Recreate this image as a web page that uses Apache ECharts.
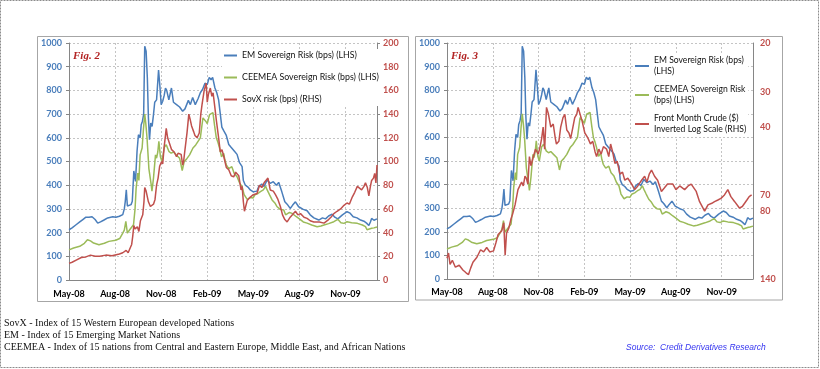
<!DOCTYPE html>
<html>
<head>
<meta charset="utf-8">
<script src="https://cdn.jsdelivr.net/npm/echarts@6/dist/echarts.min.js"></script>
<style>
html,body{margin:0;padding:0;background:#fff;}
#chart{width:820px;height:369px;}
</style>
</head>
<body>
<div id="chart"></div>
<script>
// time is expressed in months since 1 May 2008
const xTickLabels = ['May-08','Aug-08','Nov-08','Feb-09','May-09','Aug-09','Nov-09'];
const leftTicks = [0,100,200,300,400,500,600,700,800,900,1000];
const crudeTicks = [20,30,40,70,80,140];

const emT = [0,0.2,0.46,0.7,0.9,1.1,1.3,1.5,1.7,1.87,2.05,2.25,2.52,2.85,3.05,3.28,3.5,3.6,3.66,3.73,3.8,3.9,4.04,4.12,4.22,4.33,4.43,4.52,4.63,4.7,4.78,4.86,4.93,5.02,5.1,5.17,5.24,5.32,5.41,5.5,5.58,5.7,5.83,5.92,6.0,6.1,6.2,6.28,6.36,6.5,6.6,6.67,6.8,7.0,7.2,7.4,7.55,7.77,7.9,8.05,8.22,8.4,8.55,8.7,8.85,9.0,9.13,9.25,9.35,9.5,9.62,9.74,9.85,9.95,10.07,10.24,10.4,10.55,10.77,10.94,11.1,11.27,11.35,11.48,11.65,11.8,12.0,12.24,12.35,12.55,12.7,12.9,13.1,13.3,13.5,13.65,13.85,14.05,14.2,14.4,14.55,14.74,14.95,15.25,15.5,15.7,15.94,16.26,16.5,16.7,16.9,17.13,17.3,17.5,17.8,18.1,18.3,18.5,18.75,18.98,19.2,19.37,19.52,19.62,19.7,19.85,20.05];
const emV = [212,220,233,245,255,265,265,267,255,240,245,252,262,267,265,269,276,300,330,381,312,305,318,332,460,416,543,613,600,655,670,700,986,965,853,684,592,662,648,698,750,760,886,815,740,754,780,810,800,760,790,810,750,740,730,712,722,758,740,770,740,765,790,805,830,825,855,845,855,810,790,760,700,645,630,610,572,560,543,530,495,478,420,400,392,380,372,375,394,405,395,422,408,415,400,412,373,330,320,302,315,330,309,298,292,275,262,253,262,258,270,278,265,258,275,288,282,267,262,253,248,240,230,245,260,252,258];

const ceeT = [0,0.3,0.7,1.0,1.2,1.4,1.6,1.95,2.3,2.6,3.04,3.3,3.5,3.6,3.7,3.8,3.95,4.2,4.3,4.37,4.48,4.55,4.63,4.76,4.85,4.93,5.0,5.08,5.2,5.35,5.4,5.5,5.63,5.7,5.78,5.85,5.95,6.05,6.2,6.33,6.5,6.65,6.8,6.98,7.2,7.3,7.37,7.5,7.65,7.85,8.07,8.25,8.4,8.55,8.65,8.72,8.9,9.0,9.15,9.37,9.48,9.59,9.7,9.8,9.93,10.07,10.15,10.24,10.4,10.6,10.75,10.94,11.1,11.27,11.4,11.6,11.8,11.98,12.1,12.3,12.46,12.65,12.8,12.9,13.05,13.22,13.4,13.55,13.75,13.98,14.1,14.2,14.35,14.52,14.8,15.0,15.25,15.5,15.8,16.15,16.4,16.6,16.9,17.24,17.5,17.7,17.9,18.1,18.4,18.77,19.1,19.3,19.4,19.52,19.7,19.85,20.05];
const ceeV = [127,135,142,155,170,165,156,149,155,163,168,175,198,210,247,198,212,233,300,388,451,420,528,557,640,700,660,599,470,402,375,430,528,514,540,585,520,500,560,571,543,535,540,528,514,520,462,500,510,528,557,570,585,600,650,684,670,660,698,706,650,600,580,557,520,534,506,486,470,478,450,436,410,394,360,340,348,346,359,365,373,380,395,380,360,338,325,309,298,295,275,267,285,281,267,258,245,240,232,225,228,232,238,246,256,242,239,246,242,239,232,225,212,211,218,220,224];

const sovT = [0,0.2,0.5,0.8,1.1,1.4,1.7,2.0,2.4,2.8,3.28,3.5,3.72,3.85,3.98,4.08,4.15,4.22,4.3,4.37,4.45,4.55,4.65,4.8,4.88,4.93,5.02,5.17,5.3,5.4,5.5,5.6,5.7,5.8,5.9,6.03,6.1,6.2,6.28,6.33,6.42,6.55,6.68,6.85,7.0,7.1,7.3,7.4,7.46,7.55,7.68,7.8,7.88,7.98,8.12,8.2,8.34,8.48,8.58,8.66,8.8,8.93,9.0,9.08,9.2,9.3,9.38,9.5,9.59,9.74,9.85,9.96,10.08,10.24,10.4,10.56,10.72,10.85,11.05,11.2,11.27,11.35,11.42,11.5,11.6,11.8,12.0,12.24,12.4,12.55,12.7,12.82,12.95,13.1,13.3,13.44,13.6,13.76,13.9,14.05,14.2,14.4,14.6,14.74,14.9,15.07,15.3,15.5,15.7,15.94,16.3,16.6,16.9,17.05,17.24,17.45,17.68,17.9,18.1,18.25,18.44,18.6,18.77,18.9,19.05,19.2,19.3,19.42,19.52,19.62,19.7,19.82,19.9,19.98,20.05];
const sovV = [14,15,17,19,19.5,21,20,20,21,20.5,22,23,25,23,23,30,37,46,43,42,45,41,50,55,66,78,75,66,62,63,64,68,80,86,96,100,98,113,122,128,120,115,110,108,104,107,106,97,100,110,124,140,136,130,125,122,120,124,140,148,160,166,150,157,162,155,158,145,135,120,108,110,104,95,93,88,87,91,88,76,79,66,58,62,67,70,72,73,80,78,82,84,86,76,75,72,68,62,55,51,49,53,56,58,55,56,53,52,50,49,49,48,51,53,56,58,60,63,65,64,70,74,79,78,76,79,82,78,71,79,84,86,90,82,97];

const crudeT = [0,0.1,0.2,0.35,0.55,0.8,1.04,1.25,1.41,1.55,1.7,1.96,2.2,2.4,2.6,2.8,3.05,3.2,3.35,3.59,3.72,3.81,3.9,4.05,4.2,4.3,4.46,4.65,4.89,5.0,5.11,5.2,5.3,5.4,5.5,5.66,5.8,5.98,6.1,6.2,6.3,6.4,6.52,6.65,6.8,6.96,7.1,7.17,7.33,7.45,7.6,7.72,7.85,7.99,8.1,8.25,8.37,8.5,8.59,8.72,8.85,9.03,9.15,9.25,9.4,9.55,9.7,9.8,9.95,10.1,10.25,10.46,10.6,10.72,10.85,11.0,11.15,11.33,11.5,11.65,11.85,12.1,12.3,12.5,12.75,12.95,13.1,13.25,13.4,13.6,13.8,14.05,14.25,14.45,14.8,15.0,15.25,15.57,15.8,16.0,16.33,16.55,16.88,17.1,17.35,17.53,17.75,17.95,18.18,18.4,18.6,18.85,19.16,19.35,19.5,19.65,19.8,19.96];
const crudeV = [118,113,124,120,127,125,130,133,135,128,122,117,110,112,108,112,111,104,97,94,88,115,96,92,85,82,76,67,63,65,60,61,64,51,55,51,48,50,47,44,40,48,34,36,40,39,44,46,45,40,37,36,41,42,44,40,37,36,34,36,38,42,43,44,46,45,49,51,48,50,47,48,51,46,49,54,53,59,58,62,61,64,67,65,62,60,63,59,57,60,62,68,66,64,64,67,65,67,65,64,68,74,80,76,75,74,73,72,70,67,71,74,78,77,75,73,71,70];

const zip = (t, v) => t.map((x, i) => [x, v[i]]);

const BLUE = '#4A7EBB', GREEN = '#9BBB59', RED = '#C0504D';
const FONT = 'Lato';
const grid1 = {left: 69, top: 43, width: 308, height: 237};
const grid3 = {left: 447, top: 43, width: 306, height: 236};

function xAxis(gi, margin) {
  return {
    gridIndex: gi, type: 'value', min: 0, max: 20.05, interval: 3,
    axisLine: {show: true, lineStyle: {color: '#868686', width: 1}},
    axisTick: {show: false},
    splitLine: {show: true, lineStyle: {color: '#C4C4C4', type: [2, 2], width: 1}},
    axisLabel: {
      showMaxLabel: false, margin: margin, color: '#000', fontFamily: FONT, fontWeight: 'bold', fontSize: 9,
      formatter: v => {
        const k = Math.round(v / 3);
        return Math.abs(v / 3 - k) < 1e-6 && xTickLabels[k] ? xTickLabels[k] : '';
      }
    }
  };
}
function leftAxis(gi) {
  return {
    gridIndex: gi, type: 'value', position: 'left', min: leftTicks[0], max: leftTicks[leftTicks.length - 1], interval: 100,
    axisLine: {show: true, lineStyle: {color: '#868686'}},
    axisTick: {show: true, length: 3, lineStyle: {color: '#868686'}},
    splitLine: {show: true, lineStyle: {color: '#C4C4C4', type: [2, 2], width: 1}},
    axisLabel: {color: BLUE, fontFamily: FONT, fontWeight: 'bold', fontSize: 9, margin: 7, formatter: v => String(v)}
  };
}

const option = {
  animation: false,
  backgroundColor: '#fff',
  grid: [grid1, grid3],
  xAxis: [xAxis(0, 10), xAxis(1, 9)],
  yAxis: [
    leftAxis(0),
    {
      gridIndex: 0, type: 'value', position: 'right', min: 0, max: 200, interval: 20,
      axisLine: {show: true, lineStyle: {color: '#868686'}},
      axisTick: {show: true, length: 3, lineStyle: {color: '#868686'}},
      splitLine: {show: false},
      axisLabel: {color: RED, fontFamily: FONT, fontWeight: 'bold', fontSize: 9, margin: 6}
    },
    leftAxis(1),
    {
      gridIndex: 1, type: 'log', position: 'right', min: 20, max: 140, inverse: true,
      axisLine: {show: true, lineStyle: {color: '#868686'}},
      axisTick: {show: false},
      splitLine: {show: false},
      minorTick: {show: false},
      axisLabel: {color: RED, fontFamily: FONT, fontWeight: 'bold', fontSize: 9, margin: 7, customValues: crudeTicks}
    }
  ],
  legend: [
    {
      left: 222, top: 49, orient: 'vertical', itemGap: 13, itemWidth: 13, itemHeight: 2, icon: 'rect',
      backgroundColor: '#fff', padding: [2, 2, 2, 2],
      textStyle: {fontFamily: FONT, fontSize: 8.8, color: '#111'},
      data: ['EM Sovereign Risk (bps) (LHS)', 'CEEMEA Sovereign Risk (bps) (LHS)', 'SovX risk (bps) (RHS)']
    },
    {
      left: 633, top: 53, orient: 'vertical', itemGap: 7, itemWidth: 14, itemHeight: 2, icon: 'rect',
      backgroundColor: '#fff', padding: [2, 2, 2, 2],
      textStyle: {fontFamily: FONT, fontSize: 8.6, color: '#111', lineHeight: 11},
      data: ['EM Sovereign Risk (bps)\n(LHS)', 'CEEMEA Sovereign Risk\n(bps) (LHS)', 'Front Month Crude ($)\nInverted Log Scale (RHS)']
    }
  ],
  series: [
    {name: 'EM Sovereign Risk (bps) (LHS)', type: 'line', xAxisIndex: 0, yAxisIndex: 0, data: zip(emT, emV), color: BLUE},
    {name: 'CEEMEA Sovereign Risk (bps) (LHS)', type: 'line', xAxisIndex: 0, yAxisIndex: 0, data: zip(ceeT, ceeV), color: GREEN},
    {name: 'SovX risk (bps) (RHS)', type: 'line', xAxisIndex: 0, yAxisIndex: 1, data: zip(sovT, sovV), color: RED},
    {name: 'EM Sovereign Risk (bps)\n(LHS)', type: 'line', xAxisIndex: 1, yAxisIndex: 2, data: zip(emT, emV), color: BLUE},
    {name: 'CEEMEA Sovereign Risk\n(bps) (LHS)', type: 'line', xAxisIndex: 1, yAxisIndex: 2, data: zip(ceeT, ceeV), color: GREEN},
    {name: 'Front Month Crude ($)\nInverted Log Scale (RHS)', type: 'line', xAxisIndex: 1, yAxisIndex: 3, data: zip(crudeT, crudeV), color: RED}
  ].map(s => Object.assign(s, {showSymbol: false, symbol: 'none', lineStyle: {width: 1.5, color: s.color}, itemStyle: {color: s.color}})),
  graphic: [
    {type: 'rect', z: -1, shape: {x: 0.5, y: 0.5, width: 818, height: 367}, style: {fill: 'none', stroke: '#8c8c8c', lineWidth: 1, lineDash: [2, 1]}},
    {type: 'rect', z: -1, shape: {x: 37.5, y: 36.5, width: 371, height: 265}, style: {fill: 'none', stroke: '#A6A6A6', lineWidth: 1}},
    {type: 'rect', z: -1, shape: {x: 415.5, y: 36.5, width: 367, height: 263.5}, style: {fill: 'none', stroke: '#A6A6A6', lineWidth: 1}},
    {type: 'text', z: 10, style: {x: 73, y: 56, text: 'Fig. 2', font: 'italic bold 11px "Liberation Serif"', fill: '#B22222', verticalAlign: 'middle'}},
    {type: 'text', z: 10, style: {x: 451, y: 56, text: 'Fig. 3', font: 'italic bold 11px "Liberation Serif"', fill: '#B22222', verticalAlign: 'middle'}},
    {type: 'text', style: {x: 4, y: 323, text: 'SovX - Index of 15 Western European developed Nations', font: '10px "Liberation Serif"', fill: '#111', verticalAlign: 'middle'}},
    {type: 'text', style: {x: 4, y: 335, text: 'EM - Index of 15 Emerging Market Nations', font: '10px "Liberation Serif"', fill: '#111', verticalAlign: 'middle'}},
    {type: 'text', style: {x: 4, y: 347, text: 'CEEMEA - Index of 15 nations from Central and Eastern Europe, Middle East, and African Nations', font: '10px "Liberation Serif"', fill: '#111', verticalAlign: 'middle'}},
    {type: 'text', style: {x: 626, y: 348, text: 'Source:  Credit Derivatives Research', font: 'italic 8.5px "Liberation Sans"', fill: '#3535F0', verticalAlign: 'middle'}}
  ]
};

const chart = echarts.init(document.getElementById('chart'), null, {renderer: 'canvas'});
chart.setOption(option);
</script>
</body>
</html>
